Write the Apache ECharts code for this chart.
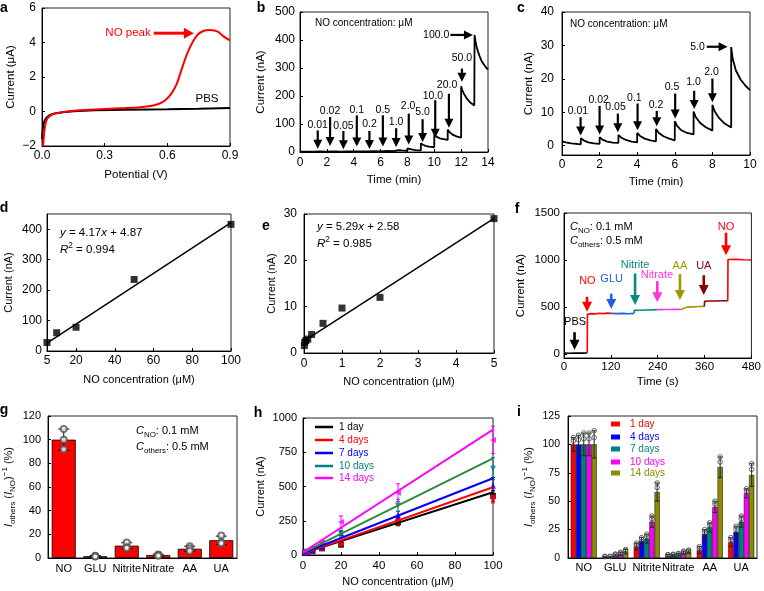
<!DOCTYPE html>
<html><head><meta charset="utf-8">
<script src="https://cdn.jsdelivr.net/npm/echarts@6/dist/echarts.min.js"></script>
<style>html,body{margin:0;padding:0;background:#fff;}#c{width:764px;height:591px;}</style>
</head><body><div id="c"></div>
<script>
// ---------------- DATA ----------------
// a: linear sweep voltammetry (potential V, current µA)
const aPBS = [[0,-1.6],[0.004,-1.0],[0.01,-0.6],[0.02,-0.38],[0.035,-0.22],[0.06,-0.12],[0.1,-0.04],[0.15,0.02],[0.25,0.07],[0.4,0.1],[0.6,0.13],[0.75,0.16],[0.9,0.21]];
const aNO = [[0.005,-2],[0.01,-1.3],[0.016,-0.75],[0.025,-0.42],[0.04,-0.24],[0.06,-0.13],[0.09,-0.05],[0.13,0.02],[0.2,0.09],[0.3,0.15],[0.4,0.2],[0.47,0.25],[0.52,0.32],[0.56,0.45],[0.59,0.65],[0.62,1.05],[0.645,1.6],[0.67,2.5],[0.695,3.35],[0.72,4.0],[0.745,4.45],[0.77,4.65],[0.8,4.72],[0.825,4.7],[0.845,4.6],[0.865,4.4],[0.885,4.22],[0.9,4.12]];
// b: amperometric response (min, nA)
const bCurrent = [[0,1.5],[1,1.5],[1,3],[1.5,2],[2,1.5],[2,3.5],[2.5,2],[3,1.5],[3,4],[3.5,2],[4,1.8],[4,4.5],[4.5,2.5],[5,2],[5,5],[5.5,3],[6,2.5],[6,7],[6.5,4],[7,3],[7,10],[7.3,7],[7.6,5.5],[8,4.5],[8,13],[8.3,9],[8.6,7],[9,6],[9,31],[9.15,26],[9.35,22],[9.6,19.5],[10,17],[10,62],[10.15,55],[10.4,49],[10.7,46],[11,43],[11,80],[11.15,70],[11.4,61],[11.7,55],[12,51],[12,235],[12.08,222],[12.2,208],[12.4,193],[12.65,178],[12.98,166],[13,418],[13.07,395],[13.18,370],[13.35,345],[13.55,322],[13.8,305],[14,294]];
const bLabels = ['0.01','0.02','0.05','0.1','0.2','0.5','1.0','2.0','5.0','10.0','20.0','50.0'];
// c: amperometric response, low range (min, nA)
const cCurrent = [[0,1.3],[0.2,1.0],[0.5,0.7],[1,0.4],[1,2.2],[1.15,1.6],[1.4,1.0],[1.7,0.7],[2,0.5],[2,2.5],[2.15,1.8],[2.4,1.2],[2.7,0.9],[3,0.8],[3,3.2],[3.15,2.4],[3.4,1.7],[3.7,1.2],[4,1.0],[4,3.8],[4.15,2.9],[4.4,2.1],[4.7,1.6],[5,1.3],[5,5.0],[5.15,3.8],[5.4,2.8],[5.7,2.1],[6,1.6],[6,7.3],[6.12,5.9],[6.35,4.6],[6.65,3.8],[7,3.4],[7,10.2],[7.12,8.5],[7.35,6.8],[7.65,5.5],[8,4.5],[8,12.2],[8.12,10.3],[8.35,8.3],[8.65,6.6],[9,5.4],[9,29.5],[9.08,26],[9.25,22.5],[9.5,19.8],[9.75,18],[10,16.6]];
const cLabels = ['0.01','0.02','0.05','0.1','0.2','0.5','1.0','2.0'];
// d: calibration, high range
const dConc = [5,10,20,50,100];
const dCurrent = [28,60,78,235,416];
const dFit = [[5,25.7],[100,421.9]];
// e: calibration, low range
const eConc = [0.01,0.02,0.05,0.1,0.2,0.5,1,2,5];
const eCurrent = [1.6,2.3,2.7,3.0,4.0,6.4,9.7,12,29];
const eFit = [[0,2.58],[5,29.03]];
// f: selectivity trace (s, nA)
const fPBS = [[0,8],[15,6],[30,9],[45,7],[59.5,8]];
const fNO1 = [[59.5,8],[60,420],[70,428],[80,425],[90,432],[100,428],[110,433],[120,430]];
const fGLU = [[120,430],[135,428],[150,431],[165,427],[179.5,430]];
const fNitrite = [[179.5,430],[180,462],[195,464],[210,466],[225,468],[239.5,470]];
const fNitrate = [[239.5,470],[255,472],[270,471],[285,473],[299.5,471]];
const fAA = [[299.5,471],[300,490],[315,497],[330,500],[345,503],[359.5,505]];
const fUA = [[359.5,505],[360,560],[375,563],[390,562],[405,565],[419.5,565]];
const fNO2 = [[419.5,565],[420,1005],[440,1006],[460,1002],[480,1000]];
const fLabels = ['PBS','NO','GLU','Nitrite','Nitrate','AA','UA','NO'];
// g: selectivity bars
const gCats = ['NO','GLU','Nitrite','Nitrate','AA','UA'];
const gMean = [100,1.5,10.4,2.5,7.8,15];
const gErr = [9,0.6,2.5,0.8,2.2,3.5];
const gPoints = [[109,100,92],[2,1.5,1.2],[13,9,8.5],[3,2.5,2],[10,8,6],[19,13,12.5]];
// h: stability calibrations
const hConc = [1,2,5,10,20,50,100];
const hDays = ['1 day','4 days','7 days','10 days','14 days'];
const h1 = [14,18,28,48,75,238,432];
const h4 = [15,20,30,50,82,245,420];
const h7 = [16,22,35,58,160,290,505];
const h10 = [18,25,40,70,155,362,630];
const h14 = [22,30,48,90,240,455,840];
const h1Err = [3,4,6,8,15,25,40];
const h4Err = [3,4,6,8,15,28,40];
const h7Err = [3,4,6,10,20,30,60];
const h10Err = [4,5,8,12,25,45,80];
const h14Err = [5,6,10,15,45,65,100];
const hFit1 = [[0,12],[100,458]];
const hFit4 = [[0,10],[100,495]];
const hFit7 = [[0,15],[100,560]];
const hFit10 = [[0,18],[100,705]];
const hFit14 = [[0,20],[100,915]];
// i: selectivity over days
const i1 = [100,1,10,2,7,14];
const i4 = [100,1,15,2.5,21,23];
const i7 = [100,2.5,17,3,27,32];
const i10 = [100,3.5,32,4.5,45,57];
const i14 = [100,5.5,58,5.5,80,73];
const i1Err = [6,0.5,3,1,3,4];
const i4Err = [8,0.5,3,0.8,4,5];
const i7Err = [10,1,4,1,4,5];
const i10Err = [10,1.5,5,1.5,5,4];
const i14Err = [12,2,8,1.5,9,10];

// ---------------- ANNOTATION LAYOUT ----------------
const bArrowX = [1.32,2.24,3.23,4.23,5.17,6.17,7.16,8.1,9.13,10.07,11.09,12.06];
const bArrowTop = [77,125,75,131,75,131,85,137,117,185,208,298];
const bArrowTip = [12,21,9.5,20,11,20,18,27,36,51,87,251];
const bLabelX = [1.32,2.24,3.23,4.23,5.17,6.17,7.16,8.05,9.13,9.9,10.95,12.06];
const bLabelY = [97,145,92,149,99,149,107,165,141,201,240,336];
const cArrowX = [0.99,2.0,2.97,4.02,5.04,6.02,7.03,8.0];
const cArrowTop = [8.5,11.9,9.6,12.6,10.4,15.6,16.4,20.1];
const cArrowTip = [3.0,3.3,4.0,4.6,5.8,8.1,11.0,13.0];
const cLabelX = [0.85,1.95,2.85,3.85,5.0,5.85,7.0,7.95];
const cLabelY = [10.2,13.7,11.4,14.3,12.0,17.6,19.0,22.0];
const fArrowX = [27,59,121,182,239,297,358,415];
const fArrowTop = [230,608,640,855,774,848,837,1290];
const fArrowTip = [42,449,477,519,548,572,625,1049];
const fLabelX = [28.5,60,122,182,238,297,358,415];
const fLabelY = [336,774,795,943,845,933,933,1350];

// ---------------- STYLE ----------------
const F = '"Liberation Sans", Arial, Helvetica, sans-serif';
const RED='#ff0000', BLUE='#0000ff', TEAL='#008080', MAG='#ff00ff', OLIVE='#8b8b00', DRED='#8b0000';
const fColors = ['#000000',RED,'#1f5fe0','#0a8a7e','#ff33dd','#999900',DRED,RED];
const hColors = ['#000000',RED,BLUE,TEAL,MAG];
const hLineColors = ['#000000',RED,BLUE,'#2e8b3a',MAG];
const hSymbols = [['rect',0],['circle',0],['triangle',0],['triangle',180],['triangle',90]];
const iColors = [RED,BLUE,TEAL,MAG,OLIVE];
const plain = v => String(v);

const grids = [
  {left:42, top:8, width:188, height:138},
  {left:300, top:12, width:188, height:140},
  {left:562, top:12, width:188, height:143},
  {left:42, top:214, width:189, height:137},
  {left:304, top:214, width:190, height:139},
  {left:564, top:213, width:191, height:145},
  {left:47, top:416, width:190, height:142},
  {left:303, top:418, width:190, height:140},
  {left:568, top:416, width:189, height:142}
].map(g => Object.assign({show:true, borderColor:'#222', borderWidth:1, backgroundColor:'transparent'}, g));

const yRich = {
  i:{fontStyle:'italic', fontSize:11, fontFamily:F, color:'#000', lineHeight:16},
  s:{fontSize:8, fontFamily:F, color:'#000', verticalAlign:'bottom', lineHeight:8},
  p:{fontSize:8, fontFamily:F, color:'#000', verticalAlign:'top', lineHeight:8}
};
const yRichName = '{i|I}{s|others} ({i|I}{s|NO}){p|−1} (%)';

function axis(gi, p){
  const a = {gridIndex:gi, type:p.type||'value', name:p.name||'', nameLocation:'middle', nameGap:p.gap,
    axisLine:{show:true, onZero:false, lineStyle:{color:'#000', width:1}},
    axisTick:{show:p.type!=='category', inside:true, length:3, lineStyle:{color:'#000'}},
    axisLabel:{color:'#000', fontFamily:F, fontSize:p.fs||12, margin:p.margin},
    splitLine:{show:false},
    nameTextStyle:{color:'#000', fontFamily:F, fontSize:p.nfs||11.5, lineHeight:16}};
  if (p.min!==undefined) a.min=p.min;
  if (p.max!==undefined) a.max=p.max;
  if (p.interval!==undefined) a.interval=p.interval;
  if (p.type!=='category') a.axisLabel.formatter = p.fmt || plain;
  if (p.custom){ a.axisLabel.customValues=p.custom; a.axisTick.customValues=p.custom; }
  if (p.rich) a.nameTextStyle.rich=p.rich;
  if (p.type==='category'){ a.data=p.data; a.boundaryGap=true; a.axisLabel.interval=0; }
  return a;
}
const xAxes = [
  axis(0,{min:0,max:0.9,interval:0.3,name:'Potential (V)',gap:21,margin:4,fmt:v=>v.toFixed(1)}),
  axis(1,{min:0,max:14,interval:2,name:'Time (min)',gap:20,margin:5}),
  axis(2,{min:0,max:10,interval:2,name:'Time (min)',gap:19,margin:4}),
  axis(3,{min:5,max:100,custom:[5,20,40,60,80,100],name:'NO concentration (μM)',gap:21,margin:4,nfs:11}),
  axis(4,{min:0,max:5,interval:1,name:'NO concentration (μM)',gap:21,margin:5,nfs:11}),
  axis(5,{min:0,max:480,interval:120,name:'Time (s)',gap:15,margin:3,fs:11.5}),
  axis(6,{type:'category',data:gCats,margin:5,fs:11}),
  axis(7,{min:0,max:100,interval:20,name:'NO concentration (μM)',gap:19,margin:5,fs:11.5,nfs:11}),
  axis(8,{type:'category',data:gCats,margin:4,fs:11})
];
const yAxes = [
  axis(0,{min:-2,max:6,interval:2,name:'Current (μA)',gap:20,margin:6,fmt:v=>String(v).replace('-','−')}),
  axis(1,{min:0,max:500,interval:100,name:'Current (nA)',gap:31,margin:5}),
  axis(2,{min:-2.8,max:40,custom:[0,10,20,30,40],name:'Current (nA)',gap:23,margin:8}),
  axis(3,{min:0,max:450,custom:[0,100,200,300,400],name:'Current (nA)',gap:30,margin:5,nfs:11}),
  axis(4,{min:0,max:30,interval:10,name:'Current (nA)',gap:20,margin:7,nfs:11}),
  axis(5,{min:-45,max:1500,custom:[0,500,1000,1500],name:'Current (nA)',gap:35,margin:4,fs:11.5}),
  axis(6,{min:0,max:120,interval:20,name:yRichName,rich:yRich,gap:31,margin:7,fs:11,nfs:11}),
  axis(7,{min:0,max:1000,interval:250,name:'Current (nA)',gap:32,margin:6,fs:11,nfs:11}),
  axis(8,{min:0,max:125,interval:25,name:yRichName,rich:yRich,gap:31,margin:8,fs:10.5,nfs:11})
];

function lineS(gi, data, color, w){ return {type:'line', xAxisIndex:gi, yAxisIndex:gi, data:data, showSymbol:false, symbol:'none', lineStyle:{color:color, width:w}, itemStyle:{color:color}, silent:true}; }
function pairs(xs, ys){ return xs.map((x,k)=>[x, ys[k]]); }

function seg(x1,y1,x2,y2,color,w){ return {type:'line', shape:{x1:x1,y1:y1,x2:x2,y2:y2}, style:{stroke:color, lineWidth:w}}; }
function catErr(offset, color, cap, circ){
  return function(params, api){
    const c=api.value(0), v=api.value(1), e=api.value(2);
    const t=api.coord([c, v+e]), b=api.coord([c, v-e]);
    const x=t[0]+offset;
    const kids=[seg(x,t[1],x,b[1],color,1), seg(x-cap,t[1],x+cap,t[1],color,1), seg(x-cap,b[1],x+cap,b[1],color,1)];
    if (circ){
      kids.push({type:'circle', shape:{cx:x, cy:t[1], r:2.3}, style:{fill:'none', stroke:'#444', lineWidth:0.8}});
      kids.push({type:'circle', shape:{cx:x, cy:(t[1]+api.coord([c,v])[1])/2, r:2.3}, style:{fill:'none', stroke:'#444', lineWidth:0.8}});
    }
    return {type:'group', children:kids};
  };
}
function valErr(color){
  return function(params, api){
    const x=api.value(0), v=api.value(1), e=api.value(2);
    const t=api.coord([x, v+e]), b=api.coord([x, v-e]);
    const cap=2;
    return {type:'group', children:[seg(t[0],t[1],b[0],b[1],color,1), seg(t[0]-cap,t[1],t[0]+cap,t[1],color,1), seg(b[0]-cap,b[1],b[0]+cap,b[1],color,1)]};
  };
}

const series = [];
// a
series.push(lineS(0, aPBS, '#000', 2));
series.push(Object.assign(lineS(0, aNO, RED, 2), {smooth:0.2}));
// b, c
series.push(lineS(1, bCurrent, '#000', 1.8));
series.push(lineS(2, cCurrent, '#000', 1.8));
// d
series.push(lineS(3, dFit, '#000', 1.5));
series.push({type:'scatter', xAxisIndex:3, yAxisIndex:3, data:pairs(dConc,dCurrent), symbol:'rect', symbolSize:7, itemStyle:{color:'#000'}, silent:true});
// e
series.push(lineS(4, eFit, '#000', 1.5));
series.push({type:'scatter', xAxisIndex:4, yAxisIndex:4, data:pairs(eConc,eCurrent), symbol:'rect', symbolSize:7, itemStyle:{color:'#000'}, silent:true});
// f
[fPBS,fNO1,fGLU,fNitrite,fNitrate,fAA,fUA,fNO2].forEach((d,k)=>series.push(lineS(5, d, fColors[k], 1.6)));
// g
series.push({type:'bar', xAxisIndex:6, yAxisIndex:6, data:gMean, barWidth:24, itemStyle:{color:RED, borderColor:'#000', borderWidth:0.8}, silent:true});
series.push({type:'custom', xAxisIndex:6, yAxisIndex:6, data:gMean.map((v,k)=>[k,v,gErr[k]]), renderItem:catErr(0,'#000',5.5,false), silent:true, z:5});
const gScatter = [];
gPoints.forEach((arr,k)=>arr.forEach(v=>gScatter.push([k,v])));
series.push({type:'scatter', xAxisIndex:6, yAxisIndex:6, data:gScatter, symbol:'emptyCircle', symbolSize:6, itemStyle:{color:'#555', borderWidth:0.8}, silent:true, z:6});
// h
const hMeans=[h1,h4,h7,h10,h14], hErrs=[h1Err,h4Err,h7Err,h10Err,h14Err], hFits=[hFit1,hFit4,hFit7,hFit10,hFit14];
hMeans.forEach((m,k)=>{
  series.push({type:'custom', xAxisIndex:7, yAxisIndex:7, data:hConc.map((x,j)=>[x,m[j],hErrs[k][j]]), renderItem:valErr(hColors[k]), silent:true, z:2});
  series.push({type:'scatter', xAxisIndex:7, yAxisIndex:7, data:pairs(hConc,m), symbol:hSymbols[k][0], symbolRotate:hSymbols[k][1], symbolSize:6, itemStyle:{color:hColors[k]}, silent:true, z:3});
});
hFits.forEach((d,k)=>series.push(Object.assign(lineS(7, d, hLineColors[k], 2), {z:4})));
// i
const iMeans=[i1,i4,i7,i10,i14], iErrs=[i1Err,i4Err,i7Err,i10Err,i14Err];
iMeans.forEach((m,k)=>{
  series.push({type:'bar', xAxisIndex:8, yAxisIndex:8, data:m, barWidth:5.2, barGap:'0%', itemStyle:{color:iColors[k], borderColor:'#000', borderWidth:0.5}, silent:true});
});
iMeans.forEach((m,k)=>{
  series.push({type:'custom', xAxisIndex:8, yAxisIndex:8, data:m.map((v,j)=>[j,v,iErrs[k][j]]), renderItem:catErr((k-2)*5.2,'#222',2.2,true), silent:true, z:5});
});

const option = {animation:false, grid:grids, xAxis:xAxes, yAxis:yAxes, series:series};
const chart = echarts.init(document.getElementById('c'), null, {renderer:'canvas'});
chart.setOption(option);

// ---------------- ANNOTATIONS ----------------
const P = (gi,x,y)=>chart.convertToPixel({gridIndex:gi},[x,y]);
const G = [];
function T(x,y,text,o){
  o=o||{};
  const st={text:text, fill:o.color||'#000', font:(o.italic?'italic ':'')+(o.bold?'bold ':'')+(o.size||11)+'px '+F,
    align:o.align||'center', textAlign:o.align||'center', verticalAlign:o.va||'middle', textVerticalAlign:o.va||'middle'};
  if (o.rich){ st.rich=o.rich; st.lineHeight=o.lh||16; }
  return {type:'text', x:x, y:y, silent:true, z:100, style:st};
}
function A(p1,p2,color,lw,hw,hl){
  const dx=p2[0]-p1[0], dy=p2[1]-p1[1], L=Math.hypot(dx,dy), ux=dx/L, uy=dy/L;
  const bx=p2[0]-ux*hl, by=p2[1]-uy*hl, nx=-uy, ny=ux;
  G.push({type:'line', silent:true, z:100, shape:{x1:p1[0],y1:p1[1],x2:bx+ux,y2:by+uy}, style:{stroke:color,lineWidth:lw}});
  G.push({type:'polygon', silent:true, z:100, shape:{points:[[p2[0],p2[1]],[bx+nx*hw/2,by+ny*hw/2],[bx-nx*hw/2,by-ny*hw/2]]}, style:{fill:color}});
}
const eqRich = (fs)=>({
  i:{fontStyle:'italic', fontSize:fs, fontFamily:F, fill:'#000', lineHeight:16},
  s:{fontSize:fs*0.72, fontFamily:F, fill:'#000', verticalAlign:'bottom', lineHeight:8},
  p:{fontSize:fs*0.72, fontFamily:F, fill:'#000', verticalAlign:'top', lineHeight:8}
});

// panel letters
[['a',4,8],['b',261,8],['c',521,8],['d',4,208],['e',266,226],['f',517,209],['g',4,410],['h',258,413],['i',519,412]]
  .forEach(l=>G.push(T(l[1],l[2],l[0],{bold:true,size:14})));

// a
A(P(0,0.535,4.54), P(0,0.727,4.54), RED, 3, 11, 10);
let p = P(0,0.53,4.54); G.push(T(p[0]-2,p[1],'NO peak',{color:RED,size:11.5,align:'right'}));
p = P(0,0.79,0.72); G.push(T(p[0],p[1],'PBS',{size:11.5}));

// b
G.push(T(315,23,'NO concentration: μM',{size:10,align:'left'}));
bLabels.forEach((lab,k)=>{
  A(P(1,bArrowX[k],bArrowTop[k]), P(1,bArrowX[k],bArrowTip[k]), '#000', 2.2, 9, 9);
  const q=P(1,bLabelX[k],bLabelY[k]); G.push(T(q[0],q[1],lab,{size:10.5}));
});
A(P(1,11.2,418), P(1,12.88,418), '#000', 2.2, 9, 9);
p = P(1,11.12,418); G.push(T(p[0],p[1],'100.0',{size:10.5,align:'right'}));

// c
G.push(T(570,24,'NO concentration: μM',{size:10,align:'left'}));
cLabels.forEach((lab,k)=>{
  A(P(2,cArrowX[k],cArrowTop[k]), P(2,cArrowX[k],cArrowTip[k]), '#000', 2.2, 9, 9);
  const q=P(2,cLabelX[k],cLabelY[k]); G.push(T(q[0],q[1],lab,{size:10.5}));
});
A(P(2,7.7,29.6), P(2,8.81,29.6), '#000', 2.2, 9, 9);
p = P(2,7.6,29.6); G.push(T(p[0],p[1],'5.0',{size:10.5,align:'right'}));

// d, e equations
G.push(T(60,233,'{i|y} = 4.17{i|x} + 4.87',{size:11.5,align:'left',rich:eqRich(11.5)}));
G.push(T(60,250,'{i|R}{p|2} = 0.994',{size:11.5,align:'left',rich:eqRich(11.5)}));
G.push(T(317,227,'{i|y} = 5.29{i|x} + 2.58',{size:11.5,align:'left',rich:eqRich(11.5)}));
G.push(T(317,244,'{i|R}{p|2} = 0.985',{size:11.5,align:'left',rich:eqRich(11.5)}));

// f
G.push(T(570,227,'{i|C}{s|NO}: 0.1 mM',{size:11,align:'left',rich:eqRich(11)}));
G.push(T(570,241,'{i|C}{s|others}: 0.5 mM',{size:11,align:'left',rich:eqRich(11)}));
fLabels.forEach((lab,k)=>{
  A(P(5,fArrowX[k],fArrowTop[k]), P(5,fArrowX[k],fArrowTip[k]), fColors[k], 2.6, 10, 10);
  const q=P(5,fLabelX[k],fLabelY[k]); G.push(T(q[0],q[1],lab,{size:11,color:fColors[k]}));
});

// g
G.push(T(136,431,'{i|C}{s|NO}: 0.1 mM',{size:11,align:'left',rich:eqRich(11)}));
G.push(T(136,447,'{i|C}{s|others}: 0.5 mM',{size:11,align:'left',rich:eqRich(11)}));

// h legend
const hRows=[427,440,453,466,478];
hDays.forEach((d,k)=>{
  G.push({type:'line', silent:true, z:100, shape:{x1:315,y1:hRows[k],x2:333,y2:hRows[k]}, style:{stroke:hColors[k],lineWidth:2.5}});
  G.push(T(339,hRows[k],d,{size:10,align:'left',color:hColors[k]}));
});
// i legend
const iRows=[424,437,449,462,473];
hDays.forEach((d,k)=>{
  G.push({type:'rect', silent:true, z:100, shape:{x:611,y:iRows[k]-2.5,width:9,height:5}, style:{fill:iColors[k]}});
  G.push(T(630,iRows[k],d,{size:10,align:'left',color:iColors[k]}));
});

chart.setOption({graphic:{elements:G}});
</script></body></html>
